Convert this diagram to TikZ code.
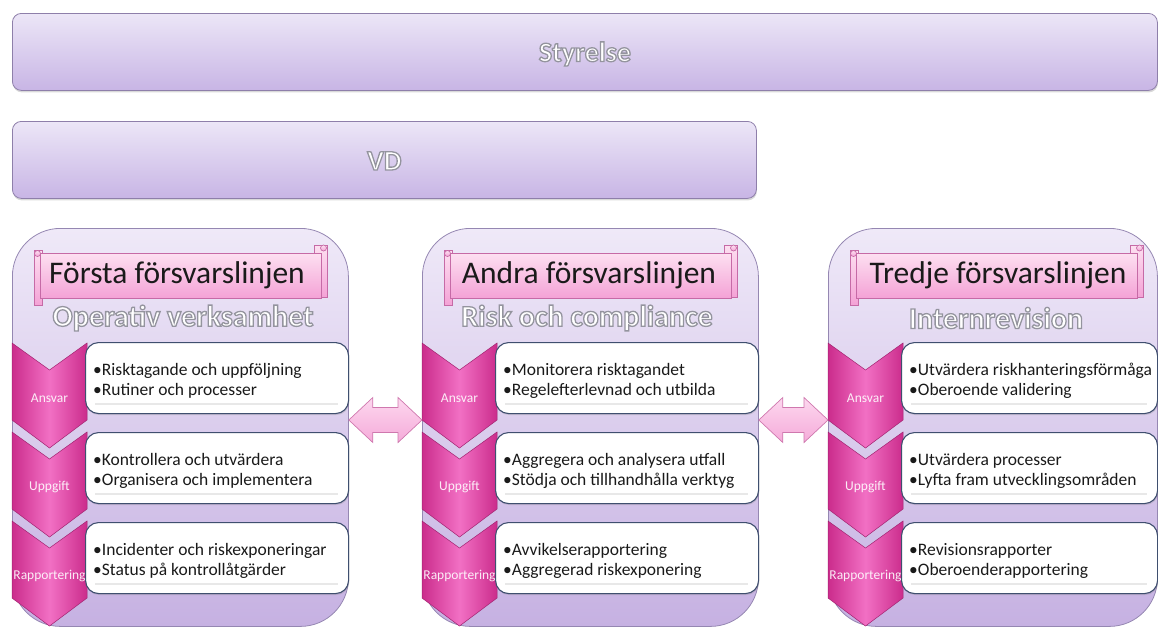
\documentclass[tikz,border=0pt]{standalone}
\usepackage{fontspec}
\setmainfont{Carlito}
\usetikzlibrary{shadows}
\definecolor{lavtop}{HTML}{EFE9F8}
\definecolor{lavbot}{HTML}{C6B1E2}
\definecolor{lavline}{HTML}{9587B2}
\definecolor{hdrtop}{HTML}{ECE6F7}
\definecolor{hdrbot}{HTML}{C8B5E5}
\definecolor{hdrline}{HTML}{8E7FAA}
\definecolor{pinktop}{HTML}{FDE0F1}
\definecolor{pinkbot}{HTML}{F4A2D6}
\definecolor{pinkline}{HTML}{C66AA6}
\definecolor{chevedge}{HTML}{CB2C8C}
\definecolor{chevmid}{HTML}{F270C4}
\definecolor{arrtop}{HTML}{FDD8EF}
\definecolor{arrbot}{HTML}{F5AAD9}
\definecolor{arrline}{HTML}{CF78AE}
\definecolor{itemline}{HTML}{3F4F6F}
\definecolor{txtblack}{HTML}{1A1A1A}
\newcommand{\outl}[1]{{\color{white}\special{pdf:literal direct 2 Tr 1.3 w 0.58 0.58 0.62 RG}#1\special{pdf:literal direct 0 Tr 0.4 w}}}
\newcommand{\mychev}[4]{%
  \path[chevfill] (#2,#3) -- ++(37.5,27) -- ++(37.5,-27) -- ++(0,77) -- ++(-37.5,28) -- ++(-37.5,-28) -- cycle;
  \node[chevlbl] (#1) at (#2+37.5,#3+55) {#4};}
\newcommand{\mybanner}[4]{% name, col x, text centre x, text
  \path[bannerfill] (#2+22,250) rectangle (#2+30,305);
  \path[bannerfill] (#2+302,245) rectangle (#2+315,297);
  \path[bannerfill] (#2+28,253) rectangle (#2+309,298);
  \path[bannerfill] (#2+25.5,253.5) circle (3);
  \path[bannerfill] (#2+311.5,248) circle (3);
  \node[titletxt] (#1) at (#3,275) {#4};}
\newcommand{\myitem}[6]{% name, col x, top, right x, line1, line2
  \node[itembox, anchor=north west, minimum width=#4-#2-73, minimum height=71] (#1) at (#2+73,#3-1) {};
  \draw[gray!18, line width=1.2pt] (#2+83,#3+61) -- (#4-10,#3+61);
  \node[itemtxt, anchor=west] (#1t) at (#2+81,#3+38) {#5\\#6};}
\newcommand{\mydbl}[2]{%
  \path[dblarrow] (#1) -- ([shift={(24,-22.5)}]#1) -- ([shift={(24,-12.5)}]#1) -- ([shift={(-24,-12.5)}]#2) -- ([shift={(-24,-22.5)}]#2) -- (#2) -- ([shift={(-24,22.5)}]#2) -- ([shift={(-24,12.5)}]#2) -- ([shift={(24,12.5)}]#1) -- ([shift={(24,22.5)}]#1) -- cycle;}
\begin{document}
\begin{tikzpicture}[x=1pt,y=-1pt,
  hdrbox/.style={rounded corners=9pt, top color=hdrtop, bottom color=hdrbot, draw=hdrline, line width=0.8pt, inner sep=0pt,
     drop shadow={opacity=0.3, shadow xshift=0.5pt, shadow yshift=-2pt}},
  hdrtxt/.style={font=\bfseries\fontsize{28}{32}\selectfont, inner sep=0pt},
  colbox/.style={rounded corners=48pt, top color=lavtop, bottom color=lavbot, draw=lavline, line width=0.8pt, inner sep=0pt, minimum height=398pt},
  bannerfill/.style={top color=pinktop, bottom color=pinkbot, draw=pinkline, line width=0.7pt},
  titletxt/.style={font=\fontsize{31.5}{36}\selectfont, text=txtblack, inner sep=0pt},
  subtxt/.style={font=\bfseries\fontsize{30}{34}\selectfont, inner sep=0pt},
  chevfill/.style={left color=chevedge, right color=chevedge, middle color=chevmid, draw=chevedge!80!black, line width=0.5pt},
  chevlbl/.style={font=\fontsize{13.5}{16}\selectfont, text=white, text opacity=0.9, inner sep=0pt},
  itembox/.style={rounded corners=13pt, fill=white, draw=itemline, line width=1.1pt, inner sep=0pt,
     drop shadow={opacity=0.25, shadow xshift=0.8pt, shadow yshift=-1.5pt}},
  itemtxt/.style={font=\fontsize{17.5}{20}\selectfont, text=txtblack, align=left, inner sep=0pt},
  dblarrow/.style={top color=arrtop, bottom color=arrbot, draw=arrline, line width=0.7pt, line join=miter}]
\useasboundingbox (0,0) rectangle (1158,627);
% top boxes
\node[hdrbox, anchor=north west, minimum width=1145pt, minimum height=77pt] (sty) at (12,13) {};
\node[hdrtxt] (styt) at ([yshift=-2pt]sty.center) {\outl{Styrelse}};
\node[hdrbox, anchor=north west, minimum width=744pt, minimum height=77pt] (vd) at (12,121) {};
\node[hdrtxt] (vdt) at ([yshift=-1pt]vd.center) {\outl{VD}};
% columns
\node[colbox, anchor=north west, minimum width=336pt] (c1) at (12,228) {};
\node[colbox, anchor=north west, minimum width=336pt] (c2) at (422,228) {};
\node[colbox, anchor=north west, minimum width=329pt] (c3) at (828,228) {};
% banners
\mybanner{t1}{12}{177}{Första försvarslinjen}
\mybanner{t2}{422}{589}{Andra försvarslinjen}
\mybanner{t3}{828}{998}{Tredje försvarslinjen}
\node[subtxt] (s1) at (183,318) {\outl{Operativ verksamhet}};
\node[subtxt] (s2) at (587,318) {\outl{Risk och compliance}};
\node[subtxt] (s3) at (996,318) {\outl{Internrevision}};
% chevrons
\mychev{k11}{12}{343}{Ansvar}
\mychev{k12}{12}{432}{Uppgift}
\mychev{k13}{12}{521}{Rapportering}
\mychev{k21}{422}{343}{Ansvar}
\mychev{k22}{422}{432}{Uppgift}
\mychev{k23}{422}{521}{Rapportering}
\mychev{k31}{828}{343}{Ansvar}
\mychev{k32}{828}{432}{Uppgift}
\mychev{k33}{828}{521}{Rapportering}
% items
\myitem{i11}{12}{343}{348}{•Risktagande och uppföljning}{•Rutiner och processer}
\myitem{i12}{12}{433}{348}{•Kontrollera och utvärdera}{•Organisera och implementera}
\myitem{i13}{12}{523}{348}{•Incidenter och riskexponeringar}{•Status på kontrollåtgärder}
\myitem{i21}{422}{343}{758}{•Monitorera risktagandet}{•Regelefterlevnad och utbilda}
\myitem{i22}{422}{433}{758}{•Aggregera och analysera utfall}{•Stödja och tillhandhålla verktyg}
\myitem{i23}{422}{523}{758}{•Avvikelserapportering}{•Aggregerad riskexponering}
\myitem{i31}{828}{343}{1157}{•Utvärdera riskhanteringsförmåga}{•Oberoende validering}
\myitem{i32}{828}{433}{1157}{•Utvärdera processer}{•Lyfta fram utvecklingsområden}
\myitem{i33}{828}{523}{1157}{•Revisionsrapporter}{•Oberoenderapportering}
% double arrows
\coordinate (a1l) at (c1.north east |- 0,420);
\coordinate (a1r) at (c2.north west |- 0,420);
\coordinate (a2l) at (c2.north east |- 0,420);
\coordinate (a2r) at (c3.north west |- 0,420);
\mydbl{a1l}{a1r}
\mydbl{a2l}{a2r}
\end{tikzpicture}
\end{document}
